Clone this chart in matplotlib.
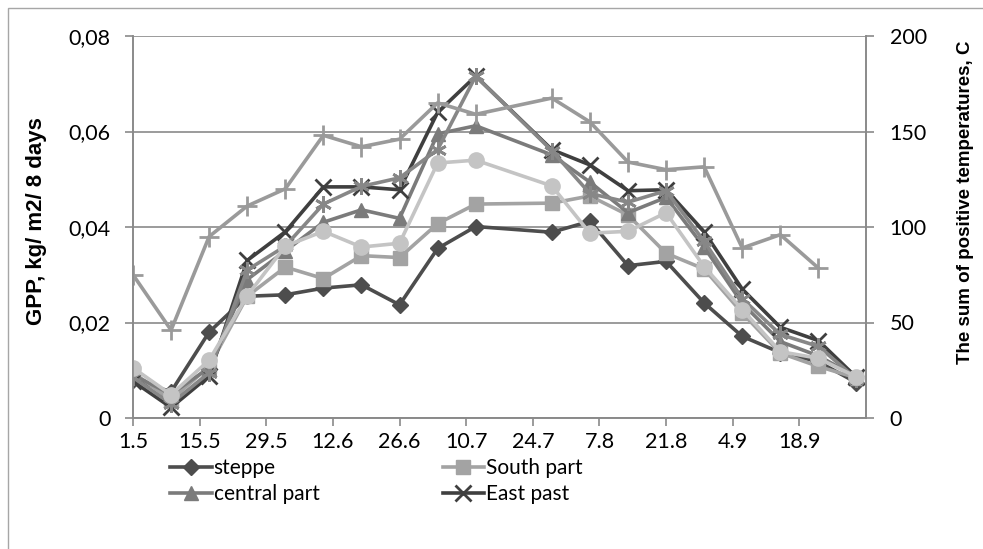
import numpy as np
import pandas as pd
import matplotlib
matplotlib.use("Agg")
import matplotlib.pyplot as plt
from matplotlib.ticker import FuncFormatter
from matplotlib.patches import Rectangle

# 8-day composite dates (d.m), 20.7 is missing in the source table
dates = ["1.5", "9.5", "17.5", "25.5", "2.6", "10.6", "18.6", "26.6", "4.7", "12.7",
         "28.7", "5.8", "13.8", "21.8", "29.8", "6.9", "14.9", "22.9", "30.9"]
tick_labels = ["1.5", "15.5", "29.5", "12.6", "26.6", "10.7", "24.7", "7.8", "21.8", "4.9", "18.9"]

steppe = [0.0080, 0.0055, 0.0180, 0.0255, 0.0258, 0.0272, 0.0279, 0.0237, 0.0355, 0.0401,
          0.0389, 0.0412, 0.0319, 0.0328, 0.0241, 0.0171, 0.0137, 0.0118, 0.0074]
south = [0.0095, 0.0038, 0.0108, 0.0255, 0.0316, 0.0292, 0.0340, 0.0336, 0.0407, 0.0448,
         0.0450, 0.0465, 0.0425, 0.0345, 0.0312, 0.0220, 0.0136, 0.0108, 0.0084]
central = [0.0090, 0.0050, 0.0105, 0.0290, 0.0350, 0.0410, 0.0436, 0.0418, 0.0595, 0.0612,
           0.0551, 0.0494, 0.0430, 0.0462, 0.0358, 0.0240, 0.0160, 0.0130, 0.0086]
east = [0.0077, 0.0022, 0.0088, 0.0330, 0.0390, 0.0484, 0.0484, 0.0478, 0.0640, 0.0716,
        0.0562, 0.0530, 0.0476, 0.0478, 0.0390, 0.0270, 0.0190, 0.0162, 0.0085]
series5 = [0.0085, 0.0030, 0.0095, 0.0310, 0.0360, 0.0448, 0.0485, 0.0503, 0.0562, 0.0716,
           0.0560, 0.0470, 0.0452, 0.0476, 0.0370, 0.0250, 0.0175, 0.0150, 0.0082]
series6 = [0.0105, 0.0049, 0.0121, 0.0256, 0.0360, 0.0391, 0.0358, 0.0366, 0.0534, 0.0540,
           0.0486, 0.0387, 0.0391, 0.0430, 0.0317, 0.0227, 0.0139, 0.0125, 0.0086]
# sum of positive temperatures (right axis), no value for 30.9
temp_sum = [75, 46, 95, 111, 120, 148, 142, 146, 165, 159,
            167.5, 155, 134, 130, 131.5, 89, 96, 78.5, np.nan]

def to_dt(lst):
    return pd.to_datetime([d + ".2013" for d in lst], format="%d.%m.%Y")

x = to_dt(dates)
xt = to_dt(tick_labels)

plt.rcParams['font.family'] = ['Lato', 'DejaVu Sans']
grid_c = '#8a8a8a'

fig = plt.figure(figsize=(9.83, 5.49), dpi=100)
fig.patch.set_facecolor('white')
W, H = 983, 549
ax = fig.add_axes([133 / W, 1 - 418 / H, (866 - 133) / W, (418 - 36) / H])
ax2 = ax.twinx()

lw = 2.6
l1, = ax.plot(x, steppe, color='#4d4d4d', lw=lw, marker='D', ms=8, label='steppe', zorder=3)
l2, = ax.plot(x, south, color='#a3a3a3', lw=lw, marker='s', ms=10, label='South part', zorder=3)
l3, = ax.plot(x, central, color='#7b7b7b', lw=lw, marker='^', ms=10, label='central part', zorder=3)
l4, = ax.plot(x, east, color='#3f3f3f', lw=lw, marker='x', ms=11, mew=2, label='East past', zorder=3)
l5, = ax.plot(x, series5, color='#878787', lw=lw, marker=(6, 2, 0), ms=12, mew=2, zorder=3)
l6, = ax.plot(x, series6, color='#c4c4c4', lw=lw, marker='o', ms=11, zorder=3)
ax2.plot(x, temp_sum, color='#9a9a9a', lw=lw, marker='+', ms=14, mew=2)

ax.set_xlim(xt[0], xt[-1] + pd.Timedelta(days=14))
ax.set_ylim(0, 0.08)
ax2.set_ylim(0, 200)
ax.set_yticks([0, 0.02, 0.04, 0.06, 0.08])
ax2.set_yticks([0, 50, 100, 150, 200])
ax.yaxis.set_major_formatter(FuncFormatter(lambda v, p: '0' if v == 0 else f'{v:.2f}'.replace('.', ',')))
ax.set_xticks(xt)
ax.set_xticklabels(tick_labels)

ax.grid(axis='y', color=grid_c, lw=1.2)
ax.set_axisbelow(True)
for a in (ax, ax2):
    a.spines['top'].set_visible(False)
    for s in ('left', 'right', 'bottom'):
        a.spines[s].set_color(grid_c)
        a.spines[s].set_linewidth(1.2)
    a.tick_params(colors=grid_c, width=1.2, length=6, labelsize=15.5, labelcolor='black')
ax.tick_params(axis='x', pad=4)
ax.tick_params(axis='y', pad=10)
ax2.tick_params(axis='y', pad=11)

fig.text(37 / W, 1 - 221 / H, 'GPP, kg/ m2/ 8 days', rotation=90, ha='center', va='center',
         fontsize=16, fontweight='bold', family='Liberation Sans')
fig.text(965 / W, 1 - 202 / H, 'The sum of positive temperatures, C', rotation=90, ha='center',
         va='center', fontsize=13.5, fontweight='bold', family='Liberation Sans')

fig.legend(handles=[l1, l3, l2, l4], ncol=2, frameon=False, fontsize=15,
           loc='upper left', bbox_to_anchor=(170 / W, 1 - 458 / H),
           handlelength=2.0, handletextpad=0.1, columnspacing=5.9, labelspacing=0.28,
           borderaxespad=0, borderpad=0)

fig.add_artist(Rectangle((8 / W, -0.05), 1.1, 1 - 8 / H + 0.05, transform=fig.transFigure,
                         fill=False, edgecolor='#a6a6a6', lw=1.0))

fig.savefig('out.png', dpi=100, facecolor='white')
